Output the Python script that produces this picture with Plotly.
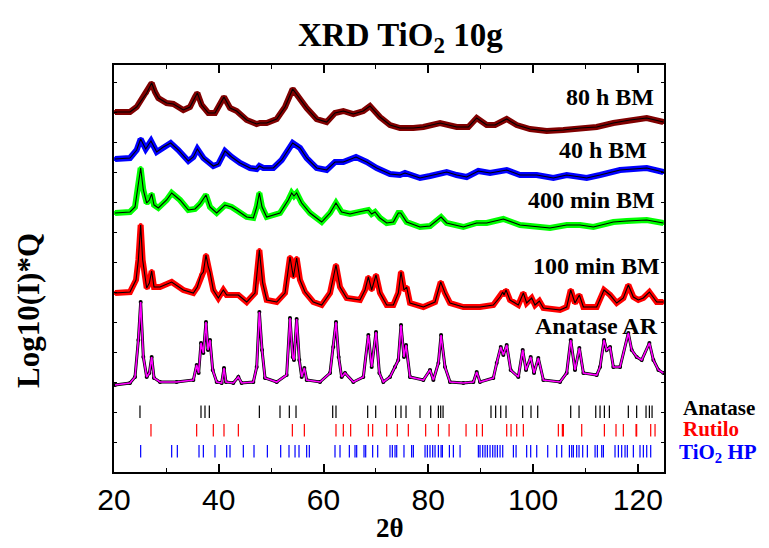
import plotly.graph_objects as go

# ---------------- data (2theta in degrees, intensity = Log10(I)*Q with vertical offsets, a.u.) -------------
tt_80h = [20.19, 23.05, 24.33, 24.96, 26.24, 27.19, 27.83, 28.46, 30.05, 31.33, 33.24, 34.51, 35.46, 35.91,
          36.74, 38.01, 39.28, 40.24, 41.0, 42.15, 43.42, 45.33, 47.24, 47.87, 49.15, 51.06, 52.65, 54.11,
          55.51, 56.78, 58.69, 60.6, 62.19, 63.78, 65.69, 67.6, 68.87, 70.78, 72.69, 74.6, 77.15, 79.06,
          82.25, 85.42, 87.65, 89.24, 91.15, 92.74, 94.97, 96.88, 99.42, 102.6, 105.79, 108.97, 112.15,
          115.33, 118.51, 121.7, 124.88]
i_80h = [360, 360, 365, 370, 379, 389, 380, 374, 369, 368, 362, 365, 375, 379,
         367, 359, 359, 368, 375, 364, 361, 352, 348, 349, 349, 353, 365, 383,
         373, 364, 353, 350, 359, 361, 358, 361, 366, 355, 347, 344, 344, 345,
         349, 345, 345, 354, 347, 347, 353, 347, 343, 341, 342, 344, 345,
         349, 352, 354, 350]

tt_40h = [20.19, 23.05, 24.33, 25.09, 26.05, 27.06, 28.15, 29.42, 30.82, 32.28, 34.19, 35.15, 35.91, 37.06,
          38.96, 39.92, 41.19, 42.46, 44.06, 45.96, 47.24, 47.75, 48.51, 50.42, 52.01, 54.11, 55.51, 56.78,
          58.69, 60.6, 62.19, 63.78, 66.2, 68.24, 70.15, 72.69, 74.6, 75.55, 78.42, 80.33, 83.51, 85.42,
          87.33, 89.56, 91.79, 94.97, 97.51, 100.7, 103.88, 106.42, 110.24, 112.79, 116.61, 121.7, 124.88]
i_40h = [313, 314, 322, 333, 323, 331, 320, 325, 329, 322, 311, 315, 323, 314,
         306, 308, 321, 315, 309, 304, 303, 306, 304, 304, 312, 329, 324, 314,
         304, 302, 310, 310, 315, 310, 304, 298, 297, 299, 294, 296, 300, 297,
         295, 301, 299, 302, 297, 297, 294, 297, 294, 297, 302, 304, 300]

tt_400m = [20.19, 23.05, 24.01, 24.52, 25.09, 25.6, 26.24, 26.75, 27.19, 27.64, 28.46, 30.05, 31.01, 32.6,
           34.19, 35.46, 36.42, 37.56, 38.33, 39.6, 41.19, 42.46, 43.42, 45.33, 46.6, 47.24, 47.75, 48.26,
           49.15, 51.69, 53.28, 53.92, 54.36, 54.87, 55.83, 57.42, 59.65, 61.24, 62.38, 63.46, 65.06, 66.65,
           68.56, 69.19, 69.83, 70.78, 72.06, 73.33, 74.28, 74.73, 75.87, 78.42, 80.33, 82.44, 83.51, 86.69,
           89.24, 91.15, 94.33, 97.51, 100.7, 103.24, 106.42, 108.97, 111.52, 115.33, 117.88, 121.7, 124.88]
i_400m = [259, 260, 265, 285, 304, 282, 269, 272, 278, 267, 264, 272, 279, 272,
          262, 263, 268, 277, 265, 259, 267, 265, 262, 255, 254, 265, 279, 265,
          255, 259, 272, 279, 276, 279, 269, 259, 250, 259, 269, 260, 258, 260,
          262, 258, 260, 254, 249, 250, 259, 259, 250, 245, 246, 255, 249, 245,
          249, 249, 253, 247, 245, 244, 247, 247, 245, 250, 251, 252, 249]

tt_100m = [20.19, 23.05, 24.2, 24.65, 25.09, 25.47, 26.24, 26.75, 27.19, 27.64, 28.78, 31.01, 33.24, 35.15,
           35.91, 36.61, 37.06, 37.56, 38.01, 38.33, 38.96, 39.92, 40.87, 41.51, 43.74, 45.33, 46.92, 47.75,
           48.38, 49.15, 51.06, 52.65, 53.6, 54.24, 54.87, 55.51, 56.46, 58.05, 59.65, 61.24, 62.38, 63.15,
           64.42, 66.96, 67.92, 68.56, 69.19, 70.02, 70.78, 72.06, 73.33, 74.28, 74.79, 75.36, 75.87, 76.51,
           79.06, 81.29, 82.37, 83.19, 84.15, 86.69, 89.88, 92.42, 93.7, 94.21, 94.46, 94.84, 95.6, 97.19,
           98.15, 98.78, 99.74, 100.38, 101.2, 101.97, 105.15, 106.42, 107.19, 108.01, 108.84, 109.61,
           112.15, 113.55, 114.7, 115.97, 117.24, 118.19, 119.15, 120.1, 121.06, 122.21, 123.61, 124.88]
i_100m = [179, 180, 192, 212, 247, 212, 184, 189, 201, 185, 185, 190, 182, 179,
          185, 197, 200, 217, 205, 200, 182, 174, 182, 177, 177, 170, 179, 222,
          189, 172, 170, 179, 215, 195, 214, 192, 180, 170, 167, 179, 207, 185,
          174, 172, 182, 195, 182, 197, 179, 167, 167, 179, 200, 182, 185, 169,
          165, 170, 190, 179, 169, 165, 165, 167, 175, 180, 177, 182, 172, 167,
          179, 169, 174, 167, 171, 164, 162, 165, 182, 169, 177, 165,
          165, 182, 177, 169, 174, 187, 175, 172, 174, 180, 170, 170]

tt_ar = [20.19, 23.05, 24.01, 24.65, 25.09, 25.6, 26.24, 26.75, 27.19, 27.64, 28.78, 31.96, 35.15, 35.78,
         36.16, 36.61, 37.06, 37.56, 37.95, 38.33, 38.84, 39.6, 40.55, 41.0, 41.38, 42.78, 43.74, 44.37,
         46.6, 47.24, 47.75, 48.26, 48.83, 51.06, 52.96, 53.6, 54.11, 54.36, 54.87, 55.38, 55.83, 56.34,
         56.78, 59.33, 61.24, 61.87, 62.38, 62.89, 63.46, 64.1, 65.69, 67.6, 68.56, 69.19, 70.02, 70.66,
         71.42, 72.69, 73.65, 74.28, 74.79, 75.36, 75.75, 76.51, 79.06, 80.33, 80.97, 81.93, 82.44, 83.19,
         84.15, 86.69, 88.61, 89.24, 89.88, 92.42, 93.06, 93.83, 94.33, 94.97, 95.73, 97.19, 98.02, 98.66,
         99.55, 100.19, 101.01, 101.97, 105.15, 106.42, 107.19, 108.01, 108.84, 109.61, 112.15, 112.79,
         113.55, 114.06, 114.7, 115.33, 116.61, 118.19, 118.83, 119.78, 120.74, 122.21, 122.97, 123.93, 124.88]
i_ar = [87, 89, 95, 132, 170, 115, 95, 99, 115, 94, 90, 90, 92, 107,
        99, 129, 119, 150, 122, 132, 102, 90, 89, 104, 90, 89, 95, 89,
        90, 105, 160, 122, 94, 90, 97, 154, 115, 112, 153, 112, 95, 104,
        92, 90, 99, 125, 150, 115, 95, 99, 90, 95, 137, 105, 140, 99,
        90, 95, 105, 112, 147, 115, 127, 95, 92, 102, 92, 109, 137, 105,
        90, 89, 90, 100, 90, 94, 109, 125, 117, 127, 102, 95, 122, 102,
        115, 99, 114, 92, 90, 99, 132, 102, 124, 99, 97, 105,
        132, 122, 125, 105, 105, 139, 122, 115, 112, 129, 112, 102, 99]

# reflection positions (2theta)
refl_anatase = [24.96, 36.61, 37.37, 38.2, 47.75, 51.69, 53.47, 54.75, 61.75, 62.38, 68.43, 69.96, 73.77,
                74.79, 75.75, 78.42, 80.46, 81.93, 82.37, 82.82, 91.97, 92.86, 93.83, 94.84, 98.02, 99.61,
                100.89, 107.19, 108.78, 111.97, 112.79, 113.62, 114.57, 118.19, 119.78, 121.57, 122.21, 122.72]
refl_rutilo = [27.06, 35.78, 38.96, 41.0, 43.74, 54.05, 56.34, 62.38, 63.78, 65.18, 68.56, 69.38, 72.06,
               74.09, 76.19, 79.5, 81.93, 83.97, 87.21, 89.24, 90.33, 94.97, 95.8, 96.88, 98.15, 104.83,
               105.6, 105.79, 109.29, 113.62, 115.84, 117.24, 119.66, 119.78, 122.46, 123.29]
refl_hp = [25.09, 31.01, 32.09, 36.23, 37.06, 39.28, 41.51, 42.15, 44.69, 46.73, 49.28, 51.82, 53.41, 54.56,
           55.32, 56.78, 57.29, 62.19, 63.15, 64.93, 66.01, 66.33, 67.73, 68.05, 69.38, 70.34, 72.69, 73.14,
           73.65, 73.97, 75.36, 76.82, 77.15, 79.38, 79.82, 80.33, 80.84, 81.29, 81.93, 82.44, 82.69, 84.03,
           84.79, 86.07, 89.56, 89.88, 90.39, 90.84, 91.28, 91.79, 92.3, 92.74, 93.19, 93.7, 94.21, 96.25,
           96.76, 98.78, 99.55, 100.7, 102.8, 104.52, 105.47, 106.94, 107.38, 107.7, 108.33, 108.78,
           109.48, 110.37, 111.84, 112.28, 113.11, 113.43, 115.65, 116.29, 116.92, 117.56, 118.0, 119.15,
           120.42, 121.06, 121.7, 122.46]
refl_levels = {"Anatase": 60.3, "Rutilo": 41.8, "HP": 20.7}

# ---------------- figure -------------
fig = go.Figure()

def add_pattern(x, y, color, fit_color, band_w=6, fit_w=1.1, marker_color=None):
    mc = marker_color or color
    fig.add_trace(go.Scatter(x=x, y=y, mode="lines+markers",
                             line=dict(color=color, width=band_w),
                             marker=dict(color=mc, size=4),
                             showlegend=False, hoverinfo="skip"))
    fig.add_trace(go.Scatter(x=x, y=y, mode="lines", line=dict(color=fit_color, width=fit_w),
                             showlegend=False, hoverinfo="skip"))

add_pattern(tt_80h, i_80h, "#800000", "black")
add_pattern(tt_40h, i_40h, "#0000FF", "black")
add_pattern(tt_400m, i_400m, "#00FF00", "black")
add_pattern(tt_100m, i_100m, "#FF0000", "black")
add_pattern(tt_ar, i_ar, "black", "#FF00FF", band_w=3, fit_w=1.6, marker_color="black")

for pos, lev, col in [(refl_anatase, refl_levels["Anatase"], "black"),
                      (refl_rutilo, refl_levels["Rutilo"], "#FF0000"),
                      (refl_hp, refl_levels["HP"], "#0000FF")]:
    fig.add_trace(go.Scatter(x=pos, y=[lev] * len(pos), mode="markers",
                             marker=dict(symbol="line-ns-open", size=9, color=col,
                                         line=dict(color=col, width=1.2)),
                             showlegend=False, hoverinfo="skip"))

# page body has an 8px margin: figure is placed at (8, 8) in the window
OFF = 8
W, H = 769 - OFF, 548 - OFF
L, T = 114 - OFF, 65 - OFF
R = W - (664 - OFF)
B = H - (472 - OFF)
PW, PH = W - L - R, H - T - B

def px(x):
    return (x - OFF - L) / PW

def py(y):
    return (T + PH - (y - OFF)) / PH

serif = "Liberation Serif, Times New Roman, serif"
ann = []
for text, xr, yc in [("80 h BM", 656, 97), ("40 h BM", 649, 150), ("400 min BM", 657, 200),
                     ("100 min BM", 662, 266), ("Anatase AR", 660, 326)]:
    ann.append(dict(text="<b>%s</b>" % text, x=px(xr), y=py(yc), xref="paper", yref="paper",
                    xanchor="right", yanchor="middle", showarrow=False,
                    font=dict(family=serif, size=24, color="black")))
for text, xl, yc, col in [("Anatase", 681, 408, "black"), ("Rutilo", 681, 429, "#FF0000"),
                          ("TiO<sub>2</sub> HP", 677, 453, "#0000FF")]:
    ann.append(dict(text="<b>%s</b>" % text, x=px(xl), y=py(yc), xref="paper", yref="paper",
                    xanchor="left", yanchor="middle", showarrow=False,
                    font=dict(family=serif, size=21, color=col)))
ann.append(dict(text="<b>Log10(I)*Q</b>", x=px(28), y=py(311), xref="paper", yref="paper",
                xanchor="center", yanchor="middle", textangle=-90, showarrow=False,
                font=dict(family=serif, size=31, color="black")))
ann.append(dict(text="<b>2θ</b>", x=px(390), y=py(528), xref="paper", yref="paper",
                xanchor="center", yanchor="middle", showarrow=False,
                font=dict(family=serif, size=27, color="black")))
ann.append(dict(text="<b>XRD TiO<sub>2</sub> 10g</b>", x=px(400), y=py(37), xref="paper", yref="paper",
                xanchor="center", yanchor="middle", showarrow=False,
                font=dict(family=serif, size=33, color="black")))

fig.update_layout(
    width=W, height=H,
    margin=dict(l=L, r=R, t=T, b=B, pad=0),
    paper_bgcolor="white", plot_bgcolor="white",
    annotations=ann,
    xaxis=dict(range=[20, 125], tick0=20, dtick=20, ticks="inside", ticklen=8, tickwidth=1.5,
               tickcolor="black", showline=True, linecolor="black", linewidth=1.5, mirror="ticks",
               showgrid=False, zeroline=False,
               minor=dict(dtick=10, ticks="inside", ticklen=4, tickwidth=1, tickcolor="black"),
               tickfont=dict(family="Liberation Sans, Arial, sans-serif", size=30, color="black")),
    yaxis=dict(range=[0, 407], showticklabels=False, ticks="inside", ticklen=3, tickwidth=1,
               tickcolor="black", dtick=30, showline=True, linecolor="black", linewidth=1.5,
               mirror="ticks", showgrid=False, zeroline=False),
)

fig.write_html("out.html")
